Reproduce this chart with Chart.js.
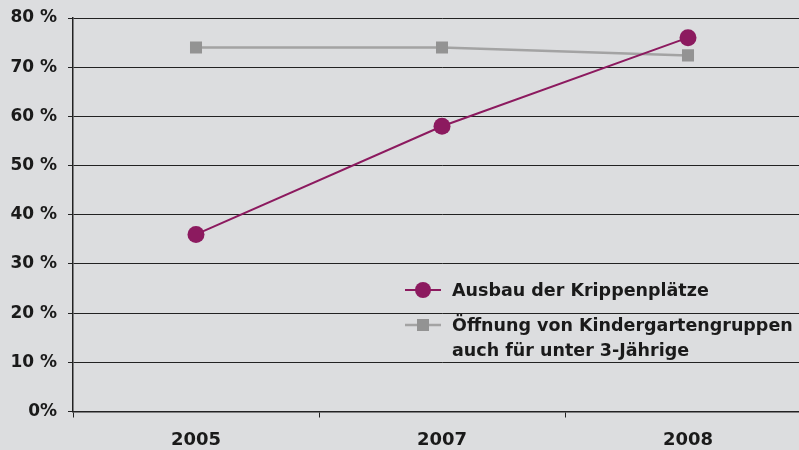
<!DOCTYPE html>
<html>
<head>
<meta charset="utf-8">
<script src="https://cdn.jsdelivr.net/npm/chart.js@4.4.0/dist/chart.umd.min.js"></script>
<style>
  html, body { margin: 0; padding: 0; background: #dcdddf; overflow: hidden; }
  #wrap { width: 820px; height: 450px; }
</style>
</head>
<body>
<div id="wrap"><canvas id="chart" width="820" height="450"></canvas></div>
<script>
const years = ['2005', '2007', '2008'];
const krippen = [36, 58, 76];
const oeffnung = [74, 74, 72.4];
const yTicks = [0, 10, 20, 30, 40, 50, 60, 70, 80];

const fam = '"DejaVu Sans", "Open Sans", sans-serif';

// legend drawn inside the plot, over the gridlines
const innerLegend = {
  id: 'innerLegend',
  afterDatasetsDraw(chart) {
    const c = chart.ctx;
    const a = chart.chartArea;
    const x0 = a.left + 332;
    const rows = [
      { ds: chart.data.datasets[0], y: a.top + 272, lines: ['Ausbau der Krippenplätze'] },
      { ds: chart.data.datasets[1], y: a.top + 307, lines: ['Öffnung von Kindergartengruppen', 'auch für unter 3-Jährige'] }
    ];
    c.save();
    rows.forEach(r => {
      c.strokeStyle = r.ds.borderColor;
      c.lineWidth = r.ds.borderWidth;
      c.beginPath();
      c.moveTo(x0, r.y);
      c.lineTo(x0 + 36, r.y);
      c.stroke();
      c.fillStyle = r.ds.pointBackgroundColor;
      if (r.ds.pointStyle === 'rect') {
        c.fillRect(x0 + 12, r.y - 6, 12, 12);
      } else {
        c.beginPath();
        c.arc(x0 + 18, r.y, 8, 0, Math.PI * 2);
        c.fill();
      }
      c.fillStyle = '#1a1a1a';
      c.font = 'bold 17.5px ' + fam;
      c.textBaseline = 'middle';
      r.lines.forEach((t, i) => c.fillText(t, x0 + 47, r.y + 1 + i * 25));
    });
    c.restore();
  }
};

new Chart(document.getElementById('chart'), {
  type: 'line',
  data: {
    labels: years,
    datasets: [{
      label: 'Ausbau der Krippenplätze',
      data: krippen,
      borderColor: '#8c1a5f',
      backgroundColor: '#8c1a5f',
      pointBackgroundColor: '#8c1a5f',
      pointBorderWidth: 0,
      pointRadius: 8.5,
      pointStyle: 'circle',
      borderWidth: 2,
      order: 1
    }, {
      label: 'Öffnung von Kindergartengruppen auch für unter 3-Jährige',
      data: oeffnung,
      borderColor: '#a3a3a3',
      backgroundColor: '#939393',
      pointBackgroundColor: '#939393',
      pointBorderWidth: 0,
      pointRadius: 8.5,
      pointStyle: 'rect',
      borderWidth: 2.5,
      order: 2
    }]
  },
  options: {
    responsive: false,
    animation: false,
    layout: { padding: { top: 18, right: 9, left: 0, bottom: 0 } },
    plugins: { legend: { display: false }, tooltip: { enabled: false } },
    scales: {
      x: {
        offset: true,
        grid: { offset: true, drawOnChartArea: false, drawTicks: true, tickLength: 6, color: '#222' },
        border: { color: '#222', width: 1.5 },
        ticks: { color: '#1a1a1a', font: { family: fam, weight: 'bold', size: 18 }, padding: 12 },
        afterFit(s) { s.height = 38.5; s.paddingLeft = 0; s.paddingRight = 0; }
      },
      y: {
        min: 0,
        max: 80,
        afterBuildTicks(s) { s.ticks = yTicks.map(v => ({ value: v })); },
        grid: { color: '#222', lineWidth: 1, tickLength: 5 },
        border: { color: '#222', width: 1.5 },
        ticks: {
          color: '#1a1a1a',
          font: { family: fam, weight: 'bold', size: 17 },
          padding: 11,
          callback: v => v === 0 ? '0%' : v + ' %'
        },
        afterFit(s) { s.width = 73; s.paddingTop = 0; s.paddingBottom = 0; }
      }
    }
  },
  plugins: [innerLegend]
});
</script>
</body>
</html>
